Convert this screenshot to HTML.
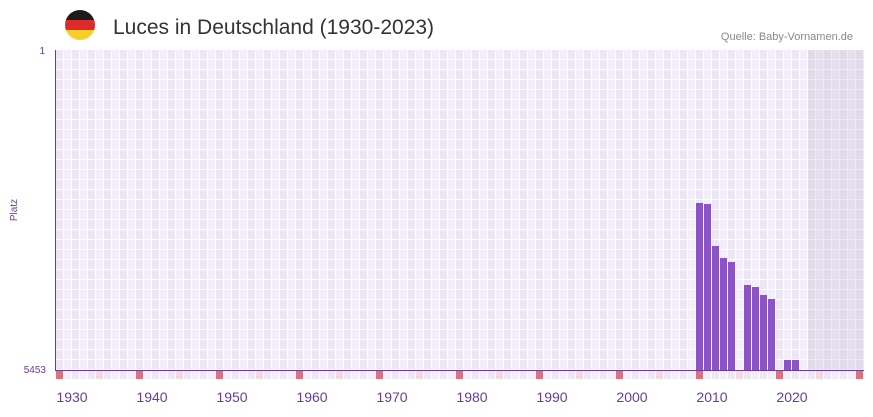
<!DOCTYPE html><html><head><style>body{margin:0;background:#fff;font-family:"Liberation Sans",sans-serif}</style></head><body>
<svg width="873" height="412" xmlns="http://www.w3.org/2000/svg">
<defs><pattern id="g" x="56" y="50" width="16" height="10" patternUnits="userSpaceOnUse">
<rect width="16" height="10" fill="#fff"/><rect x="0" y="0" width="7" height="9" fill="#ece6f7"/><rect x="8" y="0" width="7" height="9" fill="#f3effa"/></pattern>
<pattern id="s" x="56" y="50" width="16" height="10" patternUnits="userSpaceOnUse">
<rect width="16" height="10" fill="#eeeaf2"/><rect x="0" y="0" width="7" height="9" fill="#e0dbe9"/><rect x="8" y="0" width="7" height="9" fill="#e4dfec"/></pattern>
<pattern id="b" x="56" y="371" width="16" height="8" patternUnits="userSpaceOnUse">
<rect width="16" height="8" fill="#fff"/><rect x="0" y="0" width="7" height="8" fill="#ece6f7"/><rect x="8" y="0" width="7" height="8" fill="#f3effa"/></pattern>
<clipPath id="c"><circle cx="80" cy="25" r="15"/></clipPath></defs>
<g clip-path="url(#c)"><rect x="65" y="10" width="30" height="10" fill="#1c1c1c"/><rect x="65" y="20" width="30" height="10" fill="#dd2a2a"/><rect x="65" y="30" width="30" height="10" fill="#f8cf2a"/></g>
<text x="113" y="34" font-size="21" fill="#333">Luces in Deutschland (1930-2023)</text>
<text x="853" y="40" font-size="11" fill="#888" text-anchor="end">Quelle: Baby-Vornamen.de</text>
<rect x="56" y="50" width="752" height="320" fill="url(#g)"/>
<rect x="808" y="50" width="56" height="320" fill="url(#s)"/>
<g fill="#8c52c8">
<rect x="696" y="203" width="7" height="167"/><rect x="704" y="204" width="7" height="166"/>
<rect x="712" y="246" width="7" height="124"/><rect x="720" y="258" width="7" height="112"/>
<rect x="728" y="262" width="7" height="108"/>
<rect x="744" y="285" width="7" height="85"/><rect x="752" y="287" width="7" height="83"/>
<rect x="760" y="295" width="7" height="75"/><rect x="768" y="299" width="7" height="71"/>
<rect x="784" y="360" width="7" height="10"/><rect x="792" y="360" width="7" height="10"/>
</g>
<line x1="55.5" y1="50" x2="55.5" y2="371" stroke="#6a3aa0" stroke-width="1"/>
<line x1="55" y1="370.5" x2="864" y2="370.5" stroke="#6a3aa0" stroke-width="1"/>
<rect x="56" y="371" width="808" height="8" fill="url(#b)"/>
<g fill="#e0707a">
<rect x="56" y="371" width="7" height="8"/><rect x="136" y="371" width="7" height="8"/><rect x="216" y="371" width="7" height="8"/><rect x="296" y="371" width="7" height="8"/><rect x="376" y="371" width="7" height="8"/><rect x="456" y="371" width="7" height="8"/><rect x="536" y="371" width="7" height="8"/><rect x="616" y="371" width="7" height="8"/><rect x="696" y="371" width="7" height="8"/><rect x="776" y="371" width="7" height="8"/><rect x="856" y="371" width="7" height="8"/>
</g>
<g fill="#f5d9e0">
<rect x="96" y="371" width="7" height="8"/><rect x="176" y="371" width="7" height="8"/><rect x="256" y="371" width="7" height="8"/><rect x="336" y="371" width="7" height="8"/><rect x="416" y="371" width="7" height="8"/><rect x="496" y="371" width="7" height="8"/><rect x="576" y="371" width="7" height="8"/><rect x="656" y="371" width="7" height="8"/><rect x="736" y="371" width="7" height="8"/><rect x="816" y="371" width="7" height="8"/>
</g>
<g font-size="14" fill="#6a3aa0" text-anchor="middle">
<text x="72" y="402">1930</text><text x="152" y="402">1940</text><text x="232" y="402">1950</text><text x="312" y="402">1960</text><text x="392" y="402">1970</text><text x="472" y="402">1980</text><text x="552" y="402">1990</text><text x="632" y="402">2000</text><text x="712" y="402">2010</text><text x="792" y="402">2020</text>
</g>
<text x="45" y="54" font-size="10" fill="#6a3aa0" text-anchor="end">1</text>
<text x="46" y="373" font-size="10" fill="#6a3aa0" text-anchor="end">5453</text>
<text x="17" y="210" font-size="10" fill="#6a3aa0" text-anchor="middle" transform="rotate(-90 17 210)">Platz</text>
</svg></body></html>
